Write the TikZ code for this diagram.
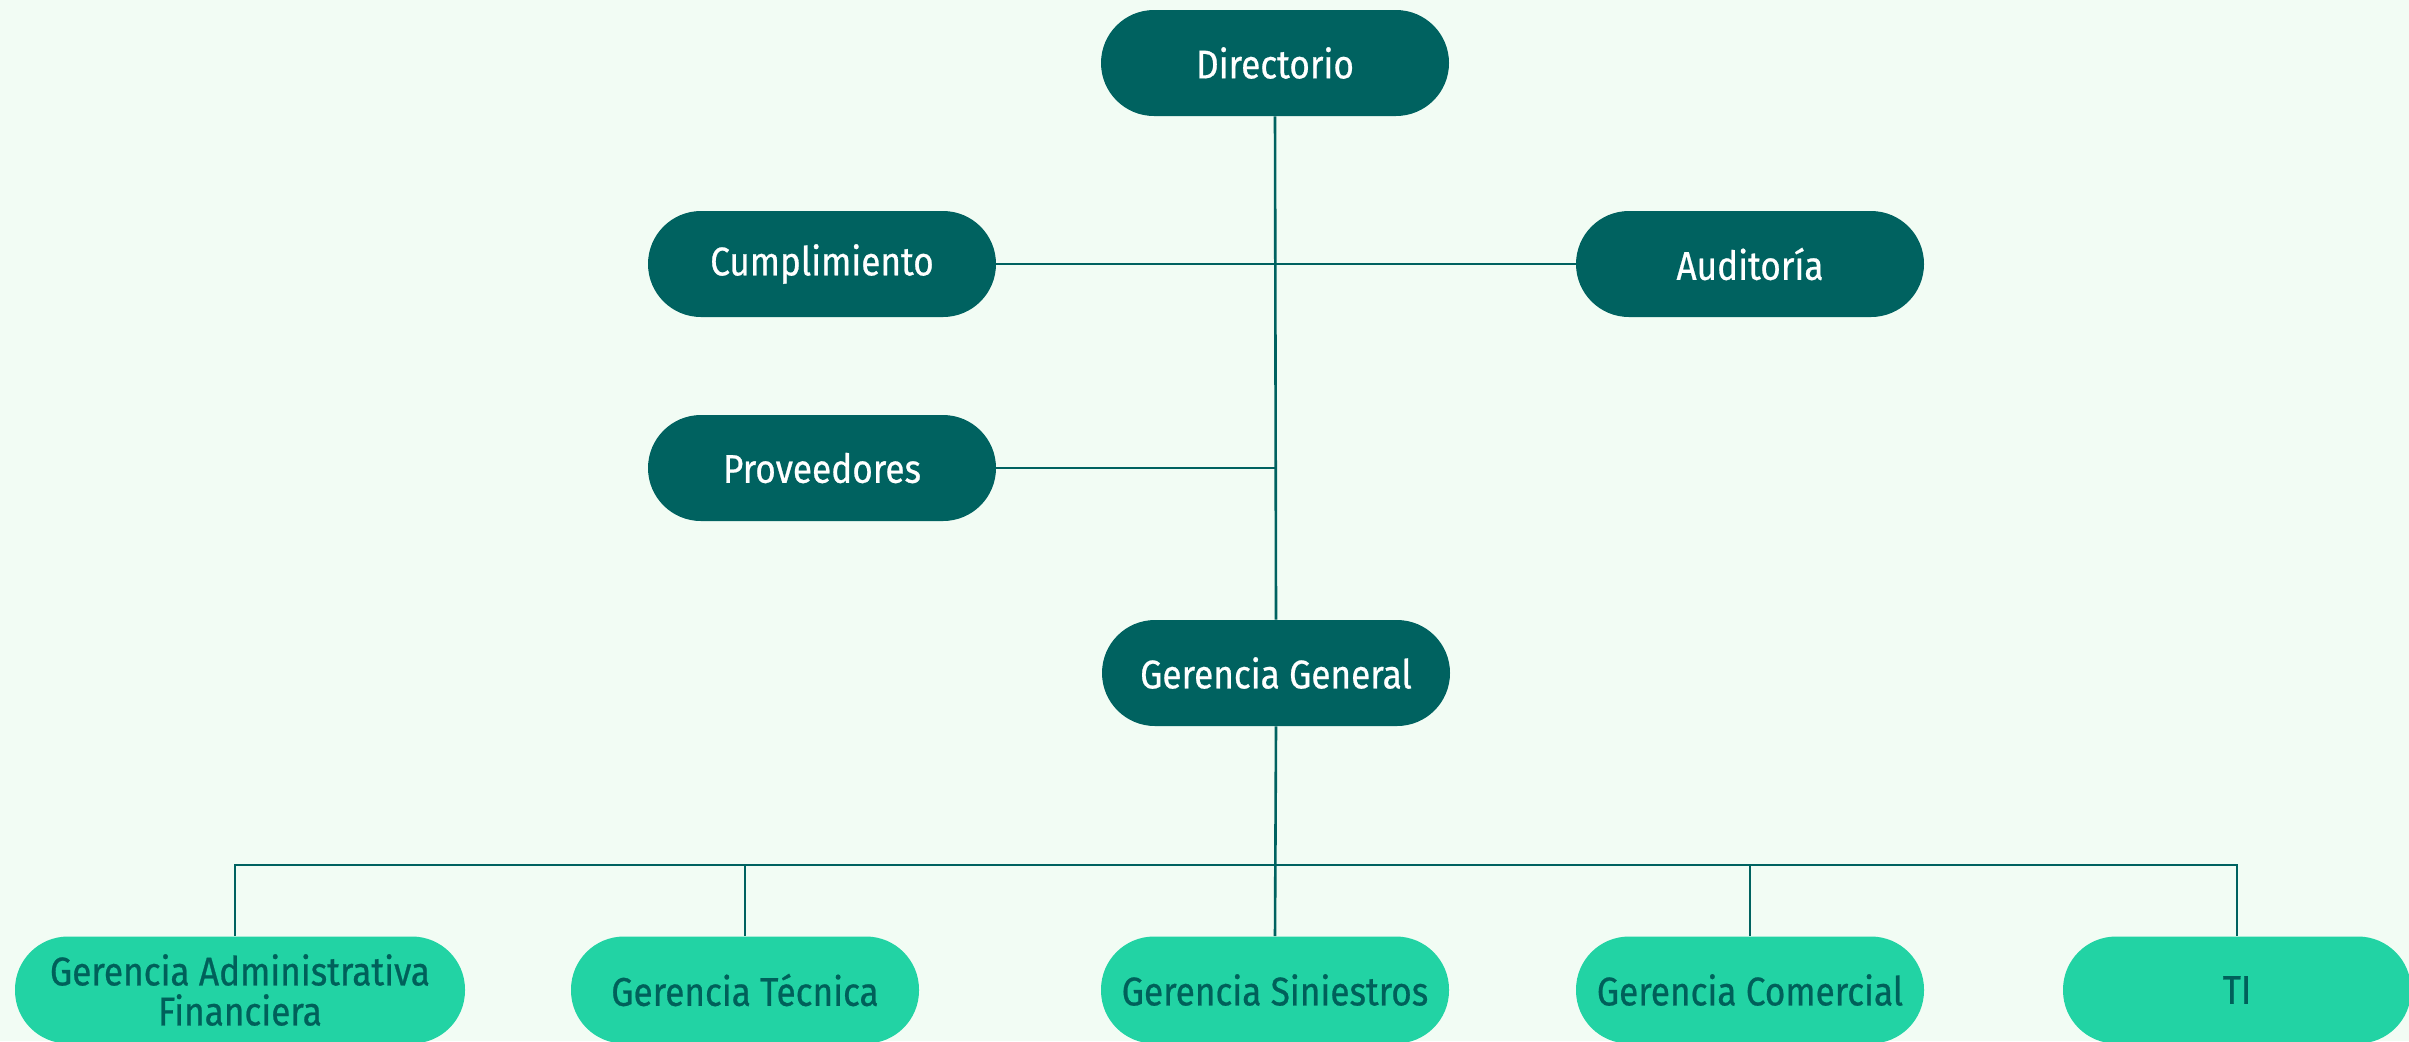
\documentclass[tikz,border=0pt]{standalone}
\usepackage{fontspec}
\setmainfont[FakeStretch=0.88,FakeBold=0.6]{Fira Sans}
\definecolor{bg}{HTML}{F2FCF4}
\definecolor{dark}{HTML}{006260}
\definecolor{light}{HTML}{22D3A4}
\definecolor{darktext}{HTML}{00605A}
\tikzset{
  darkbox/.style={rectangle, rounded corners=26.5pt, fill=dark, text=white,
    minimum width=174pt, minimum height=53pt, inner sep=0pt, align=center,
    font=\fontsize{20}{22}\selectfont},
  lightbox/.style={rectangle, rounded corners=26.5pt, fill=light, text=darktext,
    minimum width=174pt, minimum height=53.5pt, inner sep=0pt, align=center,
    font=\fontsize{20}{20}\selectfont},
  conn/.style={draw=dark, line width=1.3pt}
}
\begin{document}
\begin{tikzpicture}[x=0.5pt,y=-0.5pt]
\useasboundingbox (0,0) rectangle (2409,1041);
\fill[bg] (0,0) rectangle (2409,1041);
\begin{scope}
\clip (0,0) rectangle (2409,1041);
% nodes
\node[darkbox] (dir) at (1275,63) {Directorio};
\node[darkbox] (cum) at (822,264) {Cumplimiento};
\node[darkbox] (aud) at (1750,264) {Auditoría};
\node[darkbox] (pro) at (822,468) {Proveedores};
\node[darkbox] (gg) at (1276,673) {Gerencia General};
\node[lightbox, minimum width=225pt] (gaf) at (240,990) {Gerencia Administrativa\\Financiera};
\node[lightbox] (gt) at (745,990) {Gerencia Técnica};
\node[lightbox] (gs) at (1275,990) {Gerencia Siniestros};
\node[lightbox] (gc) at (1750,990) {Gerencia Comercial};
\node[lightbox] (ti) at (2237,990) {TI};
% coordinates
\coordinate (j2) at (1275,468);
\coordinate (bus) at (1275,865);
% connectors
\draw[conn] (dir.south) -- (gg.north);
\draw[conn] (cum.east) -- (aud.west);
\draw[conn] (pro.east) -- (j2);
\draw[conn] (gg.south) -- (gs.north);
\draw[conn] (gaf.north -| 235,0) |- (bus) -| (ti.north);
\draw[conn] (gt.north) -- (gt.north |- bus);
\draw[conn] (gc.north) -- (gc.north |- bus);
\end{scope}
\end{tikzpicture}
\end{document}
